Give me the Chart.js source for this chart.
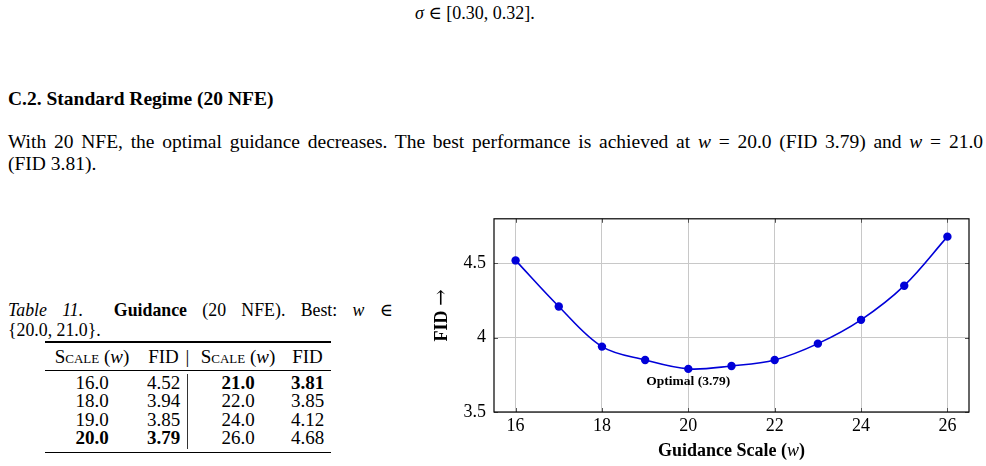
<!DOCTYPE html>
<html>
<head>
<meta charset="utf-8">
<script src="https://cdn.jsdelivr.net/npm/chart.js@4.4.1/dist/chart.umd.min.js"></script>
<style>
body{margin:0;background:#fff;width:986px;height:466px;overflow:hidden;position:relative;font-family:"Liberation Serif","Times New Roman",serif;color:#000}
.t{position:absolute;white-space:nowrap;line-height:22px;font-size:19.5px}
.j{text-align:justify;text-align-last:justify;white-space:nowrap}
.m{font-style:italic}
.cap{font-size:17.8px;line-height:20px}
.rule{position:absolute;background:#000}
.cell{position:absolute;width:110px;text-align:center;font-size:19px;line-height:18px}
.sc{font-variant:small-caps}
.el{font-family:"DejaVu Serif",serif;font-size:1em}
#box{position:absolute;left:420px;top:200px;width:566px;height:266px}
</style>
</head>
<body>

<div class="t" style="left:415px;top:2px;font-size:18px"><span class="m">σ</span> <span class="el">∈</span> [0.30, 0.32].</div>

<div class="t" style="left:8px;top:88px;font-weight:bold">C.2. Standard Regime (20 NFE)</div>

<div class="t j" style="left:8px;top:131px;width:975px">With 20 NFE, the optimal guidance decreases. The best performance is achieved at <span class="m">w</span> = 20.0 (FID 3.79) and <span class="m">w</span> = 21.0</div>
<div class="t" style="left:8px;top:153px">(FID 3.81).</div>

<div class="t j cap" style="left:8px;top:300px;width:385px"><span class="m">Table 11.</span> &nbsp;<b>Guidance</b> (20 NFE). Best: <span class="m">w</span> <span class="el">∈</span></div>
<div class="t cap" style="left:8px;top:320px">{20.0, 21.0}.</div>

<div class="rule" style="left:45px;top:341px;width:286px;height:1.6px"></div>
<div class="rule" style="left:45px;top:370px;width:286px;height:1px"></div>
<div class="rule" style="left:45px;top:451.5px;width:286px;height:1.6px"></div>
<div class="rule" style="left:186.5px;top:374px;width:1px;height:75px;background:#333"></div>
<div id="tbl"></div>

<div id="box"><canvas id="chart"></canvas></div>

<script>
// chart data
let guidance=[16,17,18,19,20,21,22,23,24,25,26];
let fid=[4.52,4.21,3.94,3.85,3.79,3.81,3.85,3.96,4.12,4.35,4.68];
let xTicks=[16,18,20,22,24,26];
let yTicks=[3.5,4,4.5];
let optimalW=20;
let optimalFid=3.79;
let optimalLabel="Optimal (3.79)";

// table data
let tabScaleL=["16.0","18.0","19.0","20.0"];
let tabFidL=["4.52","3.94","3.85","3.79"];
let tabScaleR=["21.0","22.0","24.0","26.0"];
let tabFidR=["3.81","3.85","4.12","4.68"];
let boldL=[false,false,false,true];
let boldR=[true,false,false,false];

let colCenters=[92,163.5,238,307.5];
let rowY=[374,392.3,410.6,428.9];

function cell(html,cx,top,bold){
let d=document.createElement("div");
d.className="cell";
d.style.left=(cx-55)+"px";
d.style.top=top+"px";
if(bold) d.style.fontWeight="bold";
d.innerHTML=html;
document.getElementById("tbl").appendChild(d);
}

let head='<span class="sc">Scale</span> (<span class="m">w</span>)';
cell(head,colCenters[0],348);
cell("FID",colCenters[1],348);
cell("|",187.5,348);
cell(head,colCenters[2],348);
cell("FID",colCenters[3],348);

tabScaleL.forEach((s,i)=>{
cell(s,colCenters[0],rowY[i],boldL[i]);
cell(tabFidL[i],colCenters[1],rowY[i],boldL[i]);
cell(tabScaleR[i],colCenters[2],rowY[i],boldR[i]);
cell(tabFidR[i],colCenters[3],rowY[i],boldR[i]);
});

const serif='"Liberation Serif","Times New Roman",serif';
const blue='#0000d8';

// frame, inner tick marks, axis titles and the annotation
const extras={
id:'extras',
afterDatasetsDraw(chart){
let ctx=chart.ctx;
let a=chart.chartArea;
let xs=chart.scales.x, ys=chart.scales.y;

ctx.save();
ctx.strokeStyle='#555';
ctx.lineWidth=1;
xTicks.forEach(v=>{
let px=Math.round(xs.getPixelForValue(v))+0.5;
ctx.beginPath();
ctx.moveTo(px,a.bottom);ctx.lineTo(px,a.bottom-4);
ctx.moveTo(px,a.top);ctx.lineTo(px,a.top+4);
ctx.stroke();
});
yTicks.forEach(v=>{
let py=Math.round(ys.getPixelForValue(v))+0.5;
ctx.beginPath();
ctx.moveTo(a.left,py);ctx.lineTo(a.left+4,py);
ctx.moveTo(a.right,py);ctx.lineTo(a.right-4,py);
ctx.stroke();
});

ctx.strokeStyle='#000';
ctx.lineWidth=1.2;
ctx.strokeRect(a.left,a.top,a.right-a.left,a.bottom-a.top);

// annotation
ctx.fillStyle='#000';
ctx.font='bold 13.5px '+serif;
ctx.textAlign='center';
ctx.textBaseline='middle';
ctx.fillText(optimalLabel,xs.getPixelForValue(optimalW),ys.getPixelForValue(optimalFid)+13);

// x title with italic w
let p1='Guidance Scale (', p2='w', p3=')';
let fb='bold 18px '+serif, fi='italic 18px '+serif;
ctx.font=fb;let w1=ctx.measureText(p1).width, w3=ctx.measureText(p3).width;
ctx.font=fi;let w2=ctx.measureText(p2).width;
let cx=(a.left+a.right)/2, x0=cx-(w1+w2+w3)/2, ty=a.bottom+39;
ctx.textAlign='left';
ctx.font=fb;ctx.fillText(p1,x0,ty);
ctx.font=fi;ctx.fillText(p2,x0+w1,ty);
ctx.font=fb;ctx.fillText(p3,x0+w1+w2,ty);

// y title
ctx.translate(a.left-52,(a.top+a.bottom)/2);
ctx.rotate(-Math.PI/2);
let arrowFont='20px "DejaVu Serif",serif';
ctx.font='bold 18px '+serif;
let f1=ctx.measureText('FID ').width;
ctx.font=arrowFont;
let f2=ctx.measureText('→').width;
let y0=-(f1+f2)/2;
ctx.font='bold 18px '+serif;ctx.fillText('FID ',y0,0);
ctx.font=arrowFont;ctx.fillText('→',y0+f1,0);
ctx.restore();
}
};

new Chart(document.getElementById("chart"),{
type:'line',
data:{
datasets:[{
data:guidance.map((w,i)=>({x:w,y:fid[i]})),
borderColor:blue,
backgroundColor:blue,
borderWidth:1.6,
pointRadius:4.2,
pointBorderWidth:0,
pointBackgroundColor:blue,
tension:0.35,
clip:false
}]
},
options:{
responsive:true,
maintainAspectRatio:false,
animation:false,
events:[],
layout:{padding:{top:18,right:17,left:0,bottom:0}},
plugins:{legend:{display:false},tooltip:{enabled:false}},
scales:{
x:{
type:'linear',
min:15.5,max:26.5,
afterFit:s=>{s.height=54;},
afterBuildTicks:s=>{s.ticks=xTicks.map(v=>({value:v}));},
ticks:{font:{family:serif,size:18},color:'#000',padding:3,callback:v=>String(v)},
grid:{color:'#c8c8c8',lineWidth:1,drawTicks:false},
border:{display:false}
},
y:{
min:3.5,max:4.8,
afterFit:s=>{s.width=74;},
afterBuildTicks:s=>{s.ticks=yTicks.map(v=>({value:v}));},
ticks:{font:{family:serif,size:18},color:'#000',padding:8,callback:v=>String(v)},
grid:{color:'#c8c8c8',lineWidth:1,drawTicks:false},
border:{display:false}
}
}
},
plugins:[extras]
});
</script>
</body>
</html>
